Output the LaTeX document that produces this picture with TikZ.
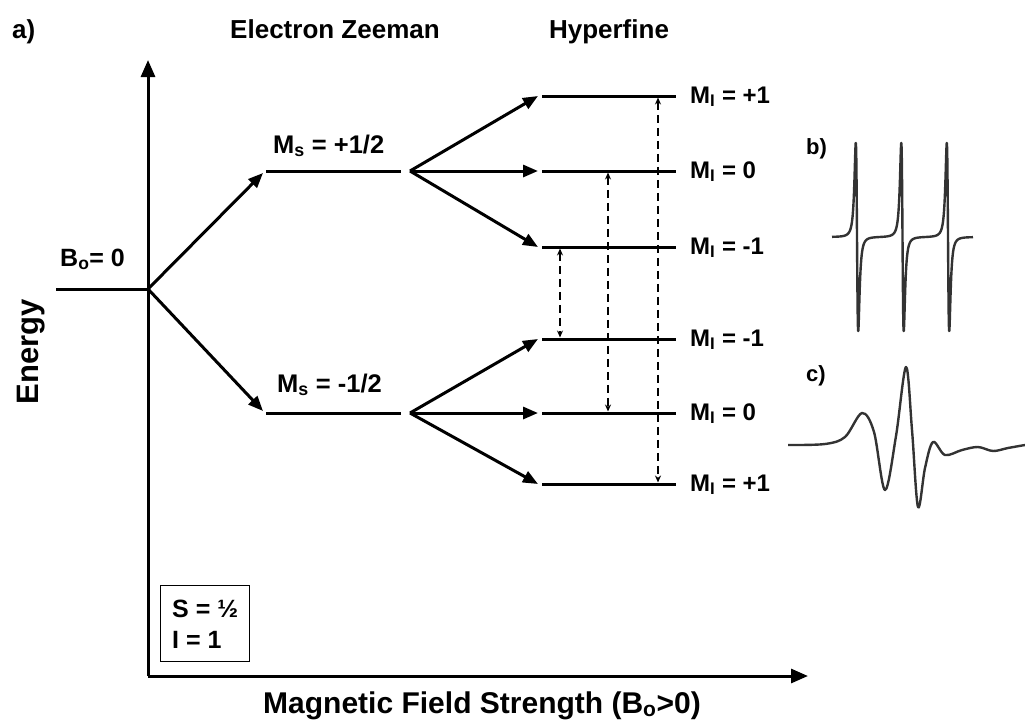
\documentclass[tikz,border=0pt]{standalone}
\usepackage{fontspec}
\setmainfont{Liberation Sans}
\usetikzlibrary{arrows.meta}
\begin{document}
\begin{tikzpicture}[x=1pt,y=-1pt,
  lvl/.style={line width=3pt},
  axis/.style={line width=3pt,-{Triangle[length=17pt,width=14pt]}},
  arr/.style={line width=3pt,-{Triangle[length=15pt,width=12pt]}},
  dsh/.style={line width=1.8pt,dash pattern=on 8pt off 5pt,{Stealth[length=7pt,width=6pt]}-{Stealth[length=7pt,width=6pt]}},
  hdr/.style={font=\bfseries\fontsize{26}{30}\selectfont},
  big/.style={font=\bfseries\fontsize{31}{35}\selectfont},
  axlbl/.style={font=\bfseries\fontsize{30}{34}\selectfont},
  mslbl/.style={font=\bfseries\fontsize{25.5}{29}\selectfont,anchor=base west,inner sep=0pt},
  milbl/.style={font=\bfseries\fontsize{24}{28}\selectfont,anchor=base west,inner sep=0pt},
  blbl/.style={font=\bfseries\fontsize{25}{29}\selectfont,anchor=base west,inner sep=0pt},
  plbl/.style={font=\bfseries\fontsize{22}{26}\selectfont,anchor=base west,inner sep=0pt},
  boxtxt/.style={font=\bfseries\fontsize{25}{29}\selectfont,anchor=base west,inner sep=0pt},
  spec/.style={line width=2.4pt,color=black!80,line join=round},
  declare function={lz(\t)=-\t/(1+\t*\t)/(1+\t*\t);}
]
\useasboundingbox (0,0) rectangle (1025,723);

% axes
\coordinate (O) at (148,676);
\coordinate (Ytop) at (148,60);
\coordinate (Xend) at (808,676);
\draw[axis] (O) -- (Ytop);
\draw[axis] (O) -- (Xend);

% zero-field level
\coordinate (Z0) at (56,289);
\coordinate (Z) at (148,289);
\draw[lvl] (Z0) -- (Z);

% electron Zeeman levels
\coordinate (Ul) at (266,171); \coordinate (Ur) at (401,171);
\coordinate (Ll) at (266,413); \coordinate (Lr) at (401,413);
\draw[lvl] (Ul) -- (Ur);
\draw[lvl] (Ll) -- (Lr);
\draw[arr] (Z) -- (263,173) coordinate (Uin);
\draw[arr] (Z) -- (263,411) coordinate (Lin);

% split points
\coordinate (Us) at (410,171);
\coordinate (Ls) at (410,413);

% hyperfine levels
\foreach \n/\y in {1/96,2/171,3/247,4/339,5/413,6/484}{
  \coordinate (h\n l) at (542,\y);
  \coordinate (h\n r) at (676,\y);
  \draw[lvl] (h\n l) -- (h\n r);
}
\foreach \n in {1,2,3}{ \draw[arr] (Us) -- ([xshift=-4pt]h\n l); }
\foreach \n in {4,5,6}{ \draw[arr] (Ls) -- ([xshift=-4pt]h\n l); }

% transitions
\draw[dsh] (560,248.5) coordinate (t1a) -- (560,337.5) coordinate (t1b);
\draw[dsh] (608,172.5) coordinate (t2a) -- (608,411.5) coordinate (t2b);
\draw[dsh] (658,97.5) coordinate (t3a) -- (658,482.5) coordinate (t3b);

% labels
\node[hdr,anchor=base west,inner sep=0pt] (la) at (12,38) {a)};
\node[hdr,anchor=base,inner sep=0pt] (ez) at (335,38) {Electron Zeeman};
\node[hdr,anchor=base,inner sep=0pt] (hf) at (609,38) {Hyperfine};
\node[blbl] (b0) at (60,266) {B\textsubscript{o}= 0};
\node[mslbl] (msu) at (273,153) {M\textsubscript{s} = +1/2};
\node[mslbl] (msl) at (277,392) {M\textsubscript{s} = -1/2};
\node[milbl] (m1) at (690,103) {M\textsubscript{I} = +1};
\node[milbl] (m2) at (690,178) {M\textsubscript{I} = 0};
\node[milbl] (m3) at (690,254) {M\textsubscript{I} = -1};
\node[milbl] (m4) at (690,346) {M\textsubscript{I} = -1};
\node[milbl] (m5) at (690,420) {M\textsubscript{I} = 0};
\node[milbl] (m6) at (690,491) {M\textsubscript{I} = +1};
\node[big,rotate=90,inner sep=0pt] (en) at (31,352) {Energy};
\node[axlbl,anchor=base,inner sep=0pt] (mf) at (482,713) {Magnetic Field Strength (B\textsubscript{o}>0)};

% S, I box
\draw[line width=1pt] (160,585) rectangle (249,661);
\node[boxtxt] (s) at (172,617) {S = ½};
\node[boxtxt] (i) at (172,648) {I = 1};

% spectra labels
\node[plbl] (lb) at (806,154) {b)};
\node[plbl] (lc) at (806,381) {c)};

% spectrum b
\draw[spec] plot[domain=832:973,samples=900]
  (\x,{237-290*(lz((\x-857)/2.1)+lz((\x-902.5)/2.1)+lz((\x-948)/2.1))});

% spectrum c
\draw[spec] plot[smooth,tension=0.55] coordinates {
  (788,445) (825,444) (845,437) (862,413) (874,432) (885,490) (896,436)
  (906,367) (912,430) (918,507) (925,468) (933,442) (945,455) (962,450)
  (978,447) (993,451) (1008,448) (1025,445)};
\end{tikzpicture}
\end{document}
